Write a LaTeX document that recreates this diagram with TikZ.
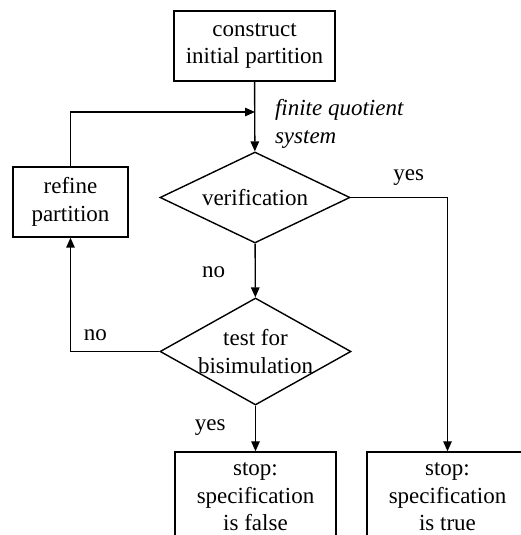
\documentclass[tikz,border=0pt]{standalone}
\usepackage{fontspec}
\setmainfont{Liberation Serif}
\usetikzlibrary{shapes.geometric,arrows.meta}

\begin{document}
\begin{tikzpicture}[x=1pt, y=1pt, font=\fontsize{23}{27.5}\selectfont, line width=1.4pt, >={Triangle[length=10pt, width=8.5pt]}, block/.style={rectangle, draw, align=center, inner sep=0pt, minimum width=161pt, minimum height=70pt}, decision/.style={diamond, draw, inner sep=0pt}]
    \useasboundingbox (0,0) rectangle (521,535);
    \clip (0,0) rectangle (521,535);

    \node[block] (init) at (254.5,489) {construct\\initial partition};
    \node[decision, minimum width=190pt, minimum height=91pt, label={[align=center]center:verification}] (verif) at (255,337.5) {};
    \node[block, minimum width=115pt] (refine) at (70.5,333) {refine\\partition};
    \node[decision, minimum width=191pt, minimum height=107pt, label={[align=center]center:test for\\bisimulation}] (test) at (255.5,183.5) {};
    \node[block, minimum height=90pt] (false) at (255.5,38) {stop:\\specification\\is false};
    \node[block, minimum height=90pt] (true) at (447.5,38) {stop:\\specification\\is true};
    \coordinate (join) at (255,423);
    \node[anchor=west, align=left, font=\fontsize{23}{27.5}\selectfont\itshape] (quot) at (271,411) {finite quotient\\system};

    \draw[->] (init) -- (verif);
    \draw[->] (refine) |- (join);
    \draw[->] (verif.east) -| node[above=8pt, pos=0.3] {yes} (true.north);
    \draw[->] (verif) -- node[left=26pt, pos=0.53] {no} (test);
    \draw[->] (test.west) -| node[above=7pt, pos=0.36] {no} (refine.south);
    \draw[->] (test) -- node[left=26pt, pos=0.47] {yes} (false);
  \end{tikzpicture}
\end{document}
